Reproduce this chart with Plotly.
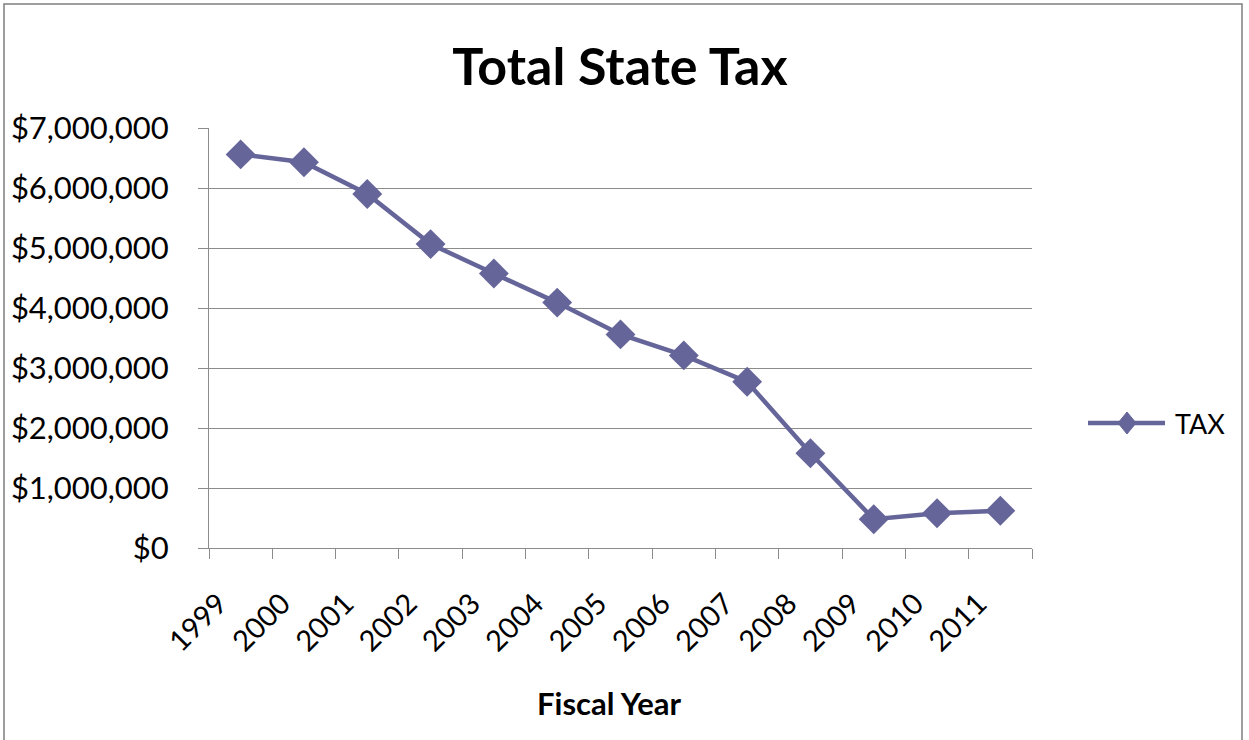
import plotly.graph_objects as go

years = ["1999", "2000", "2001", "2002", "2003", "2004", "2005",
         "2006", "2007", "2008", "2009", "2010", "2011"]
tax = [6560000, 6430000, 5900000, 5065000, 4575000, 4090000, 3560000,
       3210000, 2770000, 1580000, 480000, 580000, 620000]
series_name = "TAX"
title_text = "Total State Tax"
x_title = "Fiscal Year"

W, H = 1249, 740
L, R, T, B = 209, 1032, 128, 548
pw, ph = R - L, B - T

line_color = "#65659A"
grid_color = "#8C8C8C"
font_family = "Lato, 'Open Sans', sans-serif"


def px_x(p):
    return (p - L) / pw


def px_y(p):
    return (B - p) / ph


fig = go.Figure()
fig.add_trace(go.Scatter(
    x=years, y=tax, mode="lines+markers", name=series_name,
    line=dict(color=line_color, width=4.5),
    marker=dict(symbol="diamond", size=23, color=line_color),
    showlegend=False,
))

# legend (drawn manually to mimic the long line symbol)
lx0, lx1, ly, lxc = 1088, 1165, 423, 1127
dw, dh = 9, 11
shapes = [
    dict(type="rect", xref="paper", yref="paper",
         x0=px_x(4), x1=px_x(1242), y0=px_y(745), y1=px_y(4),
         line=dict(color="#7F7F7F", width=1.5), fillcolor="rgba(0,0,0,0)",
         layer="below"),
    dict(type="line", xref="paper", yref="paper",
         x0=px_x(lx0), x1=px_x(lx1), y0=px_y(ly), y1=px_y(ly),
         line=dict(color=line_color, width=4.5)),
    dict(type="path", xref="paper", yref="paper",
         path=(f"M {px_x(lxc - dw)} {px_y(ly)} L {px_x(lxc)} {px_y(ly - dh)} "
               f"L {px_x(lxc + dw)} {px_y(ly)} L {px_x(lxc)} {px_y(ly + dh)} Z"),
         fillcolor=line_color, line=dict(color=line_color, width=1)),
]

annotations = [
    dict(text=series_name, xref="paper", yref="paper", x=px_x(1173), y=px_y(ly),
         xanchor="left", yanchor="middle", showarrow=False,
         font=dict(size=27, family=font_family, color="black")),
    dict(text="<b>" + x_title + "</b>", xref="paper", yref="paper",
         x=px_x(609), y=px_y(703), xanchor="center", yanchor="middle",
         showarrow=False, font=dict(size=31, family=font_family, color="black")),
]

fig.update_layout(
    width=W, height=H,
    margin=dict(l=L, r=W - R, t=T, b=H - B),
    paper_bgcolor="white", plot_bgcolor="white",
    font=dict(family=font_family, color="black"),
    title=dict(text="<b>" + title_text + "</b>", x=px_x(620), xanchor="center",
               xref="paper", y=1 - 67 / H, yanchor="middle",
               font=dict(size=52, family=font_family, color="black")),
    showlegend=False,
    xaxis=dict(
        type="category", tickson="boundaries", ticks="outside", ticklen=10,
        tickcolor=grid_color, showline=True, linecolor=grid_color, linewidth=1,
        showgrid=False, tickangle=-45, tickfont=dict(size=29),
        range=[-0.5, len(years) - 0.5], automargin=False,
        ticklabelstandoff=26, ticklabelshift=-22,
    ),
    yaxis=dict(
        range=[0, 7000000], dtick=1000000, tickformat="$,.0f",
        ticks="outside", ticklen=10, tickcolor=grid_color,
        showline=True, linecolor=grid_color, linewidth=1,
        showgrid=True, gridcolor=grid_color, gridwidth=1,
        zeroline=False, tickfont=dict(size=31), automargin=False,
        ticklabelstandoff=23,
    ),
    shapes=shapes,
    annotations=annotations,
)

fig.write_html("out.html",
               config={"displayModeBar": False},
               post_script="document.body.style.margin='0';document.body.style.overflow='hidden';")
